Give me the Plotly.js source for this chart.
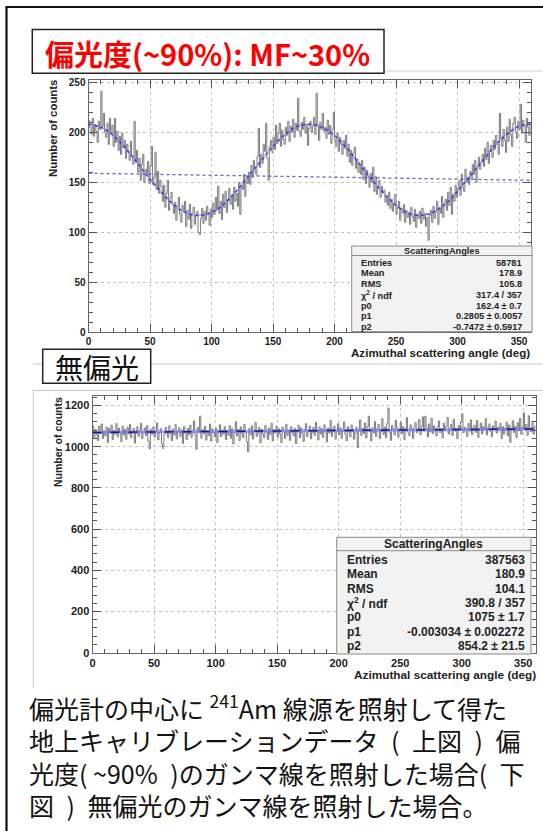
<!DOCTYPE html>
<html><head><meta charset="utf-8">
<script src="https://cdn.plot.ly/plotly-3.0.1.min.js"></script>
<style>html,body{margin:0;padding:0;background:#fff;}#chart{width:543px;height:831px;}</style>
</head><body><div id="chart"></div>
<script>
// ---------- data ----------
const binWidth = 1; // degrees per histogram bin
const polarizedCounts = [
212,205,198,214,196,208,201,190,211,203,
241,206,219,200,195,209,188,214,199,207,
186,214,190,201,182,196,178,199,185,192,
174,188,180,172,191,176,168,211,170,182,
160,174,152,168,178,150,163,159,171,149,
166,186,148,155,180,143,161,139,152,146,
131,147,125,139,152,122,134,140,128,119,
130,112,126,135,118,110,127,121,131,106,
122,113,128,104,119,125,108,116,121,100,
98,114,124,109,121,112,126,118,107,123,
115,129,118,135,122,146,119,131,113,138,
125,141,120,133,144,128,137,123,145,131,
139,126,150,118,147,143,158,136,153,149,
160,148,167,155,172,162,158,176,204,165,
178,169,188,181,209,174,152,186,192,180,
195,183,207,189,199,209,186,202,193,188,
205,197,211,191,206,200,213,195,209,202,
234,201,196,210,203,215,199,208,187,204,
211,200,206,215,198,239,207,192,210,203,
219,201,205,194,212,198,207,189,203,220,
193,186,199,181,195,188,178,192,184,197,
176,188,170,182,167,179,185,164,173,160,
168,158,172,153,165,149,162,156,145,159,
150,165,141,156,138,147,152,135,146,141,
142,130,136,127,140,124,133,121,129,138,
118,125,131,112,124,119,128,110,122,115,
120,108,125,116,111,123,105,118,114,121,
109,124,113,119,106,115,92,117,122,110,
126,114,121,131,108,125,119,136,115,129,
133,122,140,127,145,118,138,131,147,135,
144,152,137,158,146,141,163,150,155,148,
161,153,168,158,172,150,166,175,163,170,
178,166,184,173,190,169,181,187,175,192,
183,197,188,178,219,194,186,203,192,180,
205,191,213,198,186,209,215,200,194,211,
203,228,199,212,206,190,214,205,197,210];

const unpolarizedCounts = [
1100,1045,1082,1058,1030,1098,1065,1110,1040,1076,
1052,1095,1020,1088,1067,1105,1035,1079,1060,1112,
1048,1090,1071,1025,1099,1057,1083,1036,1094,1062,
1108,1043,1075,1089,1018,1066,1097,1051,1080,1113,
1039,1068,1091,1054,1102,1027,990,1084,1061,1096,
1047,1078,1115,1033,1069,1087,1012,992,1058,1093,
1071,1044,1101,1063,1029,1085,1056,1107,1038,1074,
1092,1050,1081,1016,1098,1066,1035,1089,1059,1104,
1046,1077,1125,1058,987,1094,1070,1148,1041,1083,
1063,1099,1032,1075,1054,1110,1027,1086,1068,1047,
1090,1021,1073,1106,1049,1081,1060,1097,1034,1078,
1055,1102,1040,1087,1013,1069,1121,1052,1084,1030,
1096,1064,1043,1108,1072,1025,975,1088,1057,1101,
1037,1079,1118,1050,1066,1093,1019,1085,1061,1044,
1103,1072,1035,1090,1058,1114,1028,1082,1067,1099,
1046,1087,1062,1020,1095,1073,1040,1109,1056,1080,
1031,1097,1068,1052,1088,1015,1077,1104,1043,1091,
1065,1026,1084,1112,1049,1075,1100,1038,1069,1093,
1054,1118,1079,1033,1096,1061,1087,1045,1106,1072,
1023,1090,1066,1127,1050,1083,1099,1037,1074,1111,
1058,1092,1041,1080,1120,1063,1029,1097,1071,1048,
1105,1085,1036,1068,1095,995,1077,1130,1055,1089,
1064,1115,1042,1098,1148,1073,1028,1091,1067,1122,
1050,1086,1108,1039,1075,1136,1060,1095,1044,1112,
1188,1070,1031,1102,1083,1057,1128,1092,1046,1078,
1119,1064,1097,1035,1088,1141,1071,1053,1106,1082,
1040,1094,1117,1068,1085,1132,1058,1099,1145,1076,
1148,1090,1047,1110,1072,1138,1063,1101,1084,1052,
1096,1125,1069,1087,1043,1114,1078,1098,1142,1061,
1083,1108,1055,1133,1090,1074,1039,1102,1087,1121,
1159,1068,1095,1081,1049,1112,1076,1130,1058,1093,
1104,1070,1127,1045,1089,1115,1062,1098,1080,1136,
1057,1092,1110,1074,1048,1101,1086,1124,1066,1095,
1078,1113,1040,1097,1062,1088,1119,1052,1105,1021,
1084,1126,1069,1099,1045,1116,1077,1137,1060,1094,
1164,1081,1108,1055,1150,1090,1072,1123,1061,1098];

// fit curve every 10 degrees
const fitAngles = [0,10,20,30,40,50,60,70,80,90,100,110,120,130,140,150,160,170,180,
                   190,200,210,220,230,240,250,260,270,280,290,300,310,320,330,340,350,360];
const polarizedFit = [208,205,197,184,169,153,139,127,119,117,120,128,141,156,171,186,198,206,208,
                      205,197,184,169,153,139,127,119,117,120,128,141,156,171,186,198,206,208];
const flatLineAngles = [0,360];
const flatLineCounts = [159,152];
const unpolFitAngles = [0,90,180,270,360];
const unpolFitCounts = [1069,1074,1078,1082,1086];

const statLabels = ['Entries','Mean','RMS','χ<sup>2</sup> / ndf','p0','p1','p2'];
const polarizedStats = ['58781','178.9','105.8','317.4 / 357','162.4 ± 0.7','0.2805 ± 0.0057','-0.7472 ± 0.5917'];
const unpolarizedStats = ['387563','180.9','104.1','390.8 / 357','1075 ± 1.7','-0.003034 ± 0.002272','854.2 ± 21.5'];
const statTitle = 'ScatteringAngles';
const xTitle = 'Azimuthal scattering angle (deg)';
const yTitle = 'Number of counts';
const topLabel = '偏光度(~90%): MF~30%';
const bottomLabel = '無偏光';
const captionLines = [
  '偏光計の中心に <sup>241</sup>Am 線源を照射して得た',
  '地上キャリブレーションデータ\u2002(\u2002上図\u2002)\u2002偏',
  '光度( ~90%\u2002)のガンマ線を照射した場合(\u2002下',
  '図\u2002)\u2002無偏光のガンマ線を照射した場合。'
];

// ---------- helpers ----------
const W = 543, H = 831;
const px = x => x / W, py = y => 1 - y / H;
function stepTrace(counts, xa, ya) {
  const xs = counts.map((_, i) => i * binWidth);
  xs.push(counts.length * binWidth);
  const ys = counts.slice(); ys.push(counts[counts.length - 1]);
  return {x: xs, y: ys, xaxis: xa, yaxis: ya, type: 'scatter', mode: 'lines',
          line: {shape: 'hv', color: '#7a7a7a', width: 1}, hoverinfo: 'skip'};
}
const tickFontTop = {family: 'Liberation Sans, Arial, sans-serif', size: 10, weight: 'bold', color: '#222'};
const tickFontBot = {family: 'Liberation Sans, Arial, sans-serif', size: 11, weight: 'bold', color: '#222'};
function axis(domain, range, dtick, minorD, font, anchor) {
  return {domain: domain, range: range, anchor: anchor, tickmode: 'linear', tick0: 0, dtick: dtick,
    ticks: 'inside', ticklen: 8, tickwidth: 1, tickcolor: '#555',
    minor: {dtick: minorD, tick0: 0, ticks: 'inside', ticklen: 4, tickcolor: '#555', showgrid: false},
    showline: true, linecolor: '#666', linewidth: 1, mirror: 'ticks',
    showgrid: true, gridcolor: '#c4c4c4', griddash: 'dot', gridwidth: 1,
    zeroline: false, tickfont: font, fixedrange: true};
}

const traces = [
  stepTrace(polarizedCounts, 'x', 'y'),
  {x: flatLineAngles, y: flatLineCounts, xaxis: 'x', yaxis: 'y', mode: 'lines',
   line: {color: 'rgba(70,70,220,0.85)', width: 1.3, dash: 'dot'}, hoverinfo: 'skip'},
  {x: fitAngles, y: polarizedFit, xaxis: 'x', yaxis: 'y', mode: 'lines',
   line: {color: 'rgba(140,140,255,0.6)', width: 1.5, shape: 'spline'}, hoverinfo: 'skip'},
  {x: fitAngles, y: polarizedFit, xaxis: 'x', yaxis: 'y', mode: 'lines',
   line: {color: 'rgba(50,50,200,0.9)', width: 1.5, dash: 'dot', shape: 'spline'}, hoverinfo: 'skip'},
  stepTrace(unpolarizedCounts, 'x2', 'y2'),
  {x: unpolFitAngles, y: unpolFitCounts, xaxis: 'x2', yaxis: 'y2', mode: 'lines',
   line: {color: 'rgba(110,110,255,0.6)', width: 3}, hoverinfo: 'skip'},
  {x: unpolFitAngles, y: unpolFitCounts, xaxis: 'x2', yaxis: 'y2', mode: 'lines',
   line: {color: 'rgb(25,25,130)', width: 1.5, dash: 'dash'}, hoverinfo: 'skip'}
];

const shapes = [];
const annotations = [];
function line(x0, y0, x1, y1, color, width) {
  shapes.push({type: 'line', xref: 'paper', yref: 'paper', x0: px(x0), y0: py(y0), x1: px(x1), y1: py(y1),
               line: {color: color, width: width}});
}
function rect(x0, y0, x1, y1, fill, color, width) {
  shapes.push({type: 'rect', xref: 'paper', yref: 'paper', x0: px(x0), y0: py(y1), x1: px(x1), y1: py(y0),
               fillcolor: fill, line: {color: color, width: width}});
}
function text(t, x, y, opts) {
  annotations.push(Object.assign({text: t, xref: 'paper', yref: 'paper', x: px(x), y: py(y),
    showarrow: false, xanchor: 'center', yanchor: 'middle', borderpad: 0}, opts));
}

// outer frame (left & top) and pane outlines
line(6.5, 7, 6.5, 831, '#111', 2.2);
line(5.5, 7, 543, 7, '#111', 2.2);
line(384, 71, 543, 71, '#d0d0d0', 1);
line(33, 364, 543, 364, '#c8c8c8', 1);
line(33, 390.5, 543, 390.5, '#c8c8c8', 1);
line(33.3, 390.5, 33.3, 688, '#c8c8c8', 1);

// label boxes
rect(32.3, 29.4, 384, 73.3, '#ffffff', '#222', 1.5);
text(topLabel, 207, 52.5, {font: {family: 'Noto Sans CJK JP', size: 29, weight: 'bold', color: '#ff0000'}});
rect(42.7, 349.3, 150.7, 383.3, '#ffffff', '#222', 1.5);
text(bottomLabel, 96.7, 366.5, {font: {family: 'Noto Sans CJK JP', size: 28, color: '#111'}});

// axis titles
const bold = (s) => ({family: 'Liberation Sans, Arial, sans-serif', size: s, weight: 'bold', color: '#222'});
text(yTitle, 53, 129, {textangle: -90, font: bold(11.4)});
text(yTitle, 57.3, 441.7, {textangle: -90, font: bold(10.5)});
text(xTitle, 530.5, 352.3, {xanchor: 'right', font: bold(11.6)});
text(xTitle, 536.7, 675, {xanchor: 'right', font: bold(11.8)});

// stat boxes
function statBox(x0, y0, x1, y1, sepY, titleY, rowY0, rowStep, fontSize, labelX, valueX, values) {
  rect(x0, y0, x1, y1, '#f2f2f2', '#8a8a8a', 1);
  line(x0, sepY, x1, sepY, '#8a8a8a', 1);
  text(statTitle, (x0 + x1) / 2, titleY, {font: bold(fontSize)});
  statLabels.forEach((lab, i) => {
    text(lab, labelX, rowY0 + i * rowStep, {xanchor: 'left', font: bold(fontSize)});
    text(values[i], valueX, rowY0 + i * rowStep, {xanchor: 'right', font: bold(fontSize)});
  });
}
statBox(351.7, 246, 532, 331.7, 255.5, 250.7, 262.7, 10.7, 9.2, 360, 522.7, polarizedStats);
statBox(336.7, 537.3, 531, 654, 550.7, 544, 560, 14.3, 12, 346, 526, unpolarizedStats);

// caption: one multi-line text block (line pitch = 1.3 x font size)
text(captionLines.join('<br>'), 27.7, 755, {xanchor: 'left', align: 'left',
  font: {family: 'Noto Sans CJK JP', size: 25, color: '#111'}});

const layout = {
  width: W, height: H, margin: {l: 0, r: 0, t: 0, b: 0}, paper_bgcolor: '#fff', plot_bgcolor: 'rgba(0,0,0,0)',
  showlegend: false,
  font: {family: 'Liberation Sans, Arial, sans-serif'},
  xaxis: axis([px(88.5), px(531.3)], [0, 360], 50, 10, tickFontTop, 'y'),
  yaxis: axis([py(332.3), py(80)], [0, 252.3], 50, 10, tickFontTop, 'x'),
  xaxis2: axis([px(92.5), px(535.6)], [0, 360], 50, 10, tickFontBot, 'y2'),
  yaxis2: axis([py(652.7), py(396)], [0, 1246], 200, 40, tickFontBot, 'x2'),
  shapes: shapes, annotations: annotations
};
Plotly.newPlot('chart', traces, layout, {staticPlot: true, displayModeBar: false});
</script></body></html>
